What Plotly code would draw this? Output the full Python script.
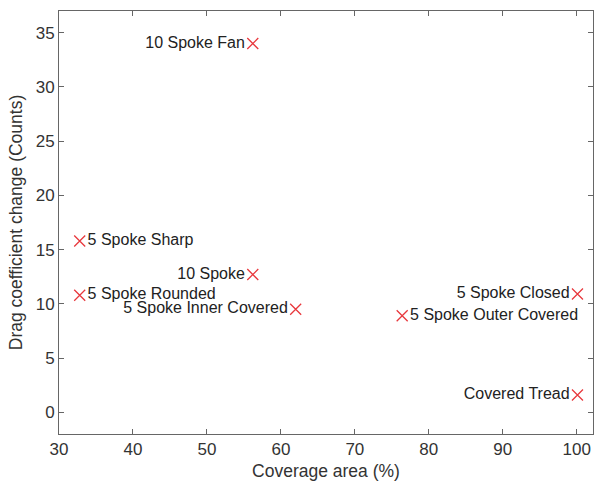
import plotly.graph_objects as go

names = ["10 Spoke Fan", "5 Spoke Sharp", "10 Spoke", "5 Spoke Rounded",
         "5 Spoke Inner Covered", "5 Spoke Closed", "5 Spoke Outer Covered", "Covered Tread"]
coverage = [56.2, 32.8, 56.2, 32.8, 62.0, 100.1, 76.4, 100.1]
drag = [34.0, 15.8, 12.7, 10.8, 9.5, 10.9, 8.9, 1.6]
positions = ["middle left", "middle right", "middle left", "middle right",
             "middle left", "middle left", "middle right", "middle left"]

fig = go.Figure()
fig.add_trace(go.Scatter(
    x=coverage, y=drag, mode="markers+text", text=names,
    textposition=positions,
    textfont=dict(family="Liberation Sans, Arial", size=16, color="#222"),
    marker=dict(symbol="x-thin", size=11, line=dict(color="#e8383d", width=1.3)),
    showlegend=False, cliponaxis=False,
))

axis_common = dict(
    showgrid=False, zeroline=False, showline=True, linecolor="#666", linewidth=1,
    mirror="allticks", ticks="inside", ticklen=5, tickcolor="#666",
    tickfont=dict(family="Liberation Sans, Arial", size=17, color="#333"),
    title_font=dict(family="Liberation Sans, Arial", size=17.5, color="#333"),
)
fig.update_xaxes(range=[30, 102.2], tickvals=[30, 40, 50, 60, 70, 80, 90, 100],
                 title_text="Coverage area (%)", title_standoff=6, **axis_common)
fig.update_yaxes(range=[-2, 37], tickvals=[0, 5, 10, 15, 20, 25, 30, 35],
                 title_text="Drag coefficient change (Counts)", title_standoff=8, **axis_common)
fig.update_layout(
    width=594, height=486, margin=dict(l=59, r=1, t=11, b=52),
    plot_bgcolor="white", paper_bgcolor="white",
)
fig.write_html("out.html")
